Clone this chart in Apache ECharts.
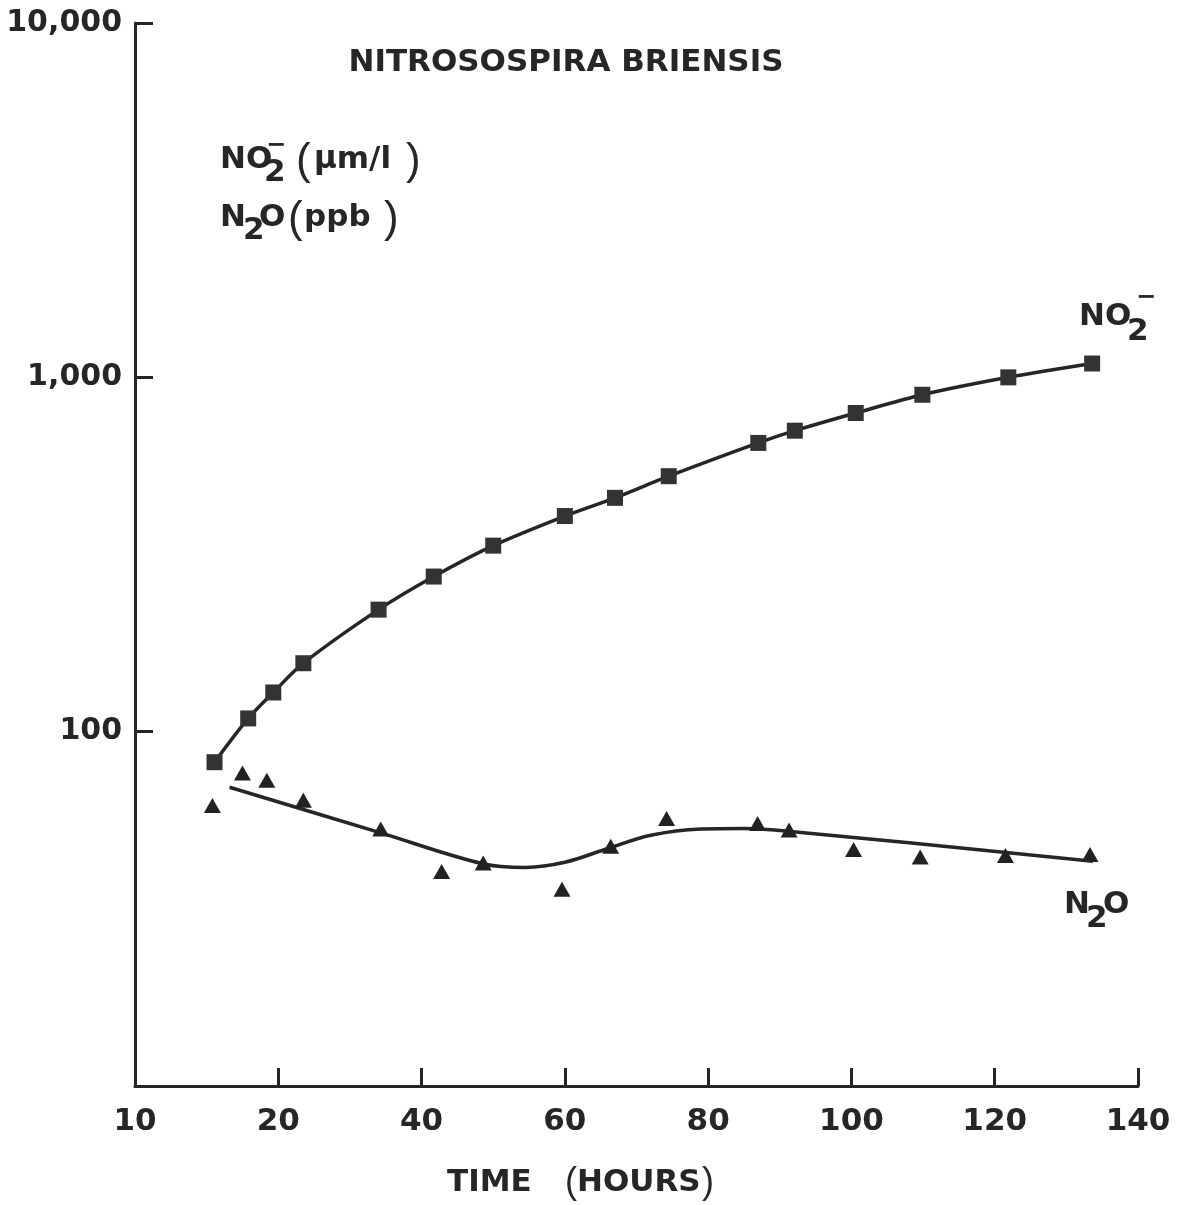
<!DOCTYPE html>
<html>
<head>
<meta charset="utf-8">
<script src="https://cdn.jsdelivr.net/npm/echarts@6/dist/echarts.min.js"></script>
<style>
html,body{margin:0;padding:0;background:#ffffff;}
#chart{width:1178px;height:1205px;}
</style>
</head>
<body>
<div id="chart"></div>
<script>
// ---- data ----
const xTickValues = [0, 20, 40, 60, 80, 100, 120, 140];
const xTickLabels = ['10', '20', '40', '60', '80', '100', '120', '140'];
const yTickValues = [100, 1000, 10000];
const yTickLabels = ['100', '1,000', '10,000'];

// NO2- (squares), hours and µm/l
const hoursNO2 = [11.1, 15.8, 19.3, 23.5, 34.0, 41.7, 50.0, 60.0, 67.0, 74.5, 87.0, 92.1, 100.6, 109.9, 121.9, 133.6];
const valuesNO2 = [82, 109, 129, 156, 221, 274, 335, 406, 457, 526, 653, 707, 793, 893, 1000, 1094];

// N2O (triangles), hours and ppb
const hoursN2O = [10.8, 15.0, 18.4, 23.5, 34.3, 42.8, 48.6, 59.6, 66.4, 74.2, 86.9, 91.3, 100.3, 109.6, 121.5, 133.3];
const valuesN2O = [61.9, 76.5, 72.9, 64.0, 53.1, 40.3, 42.6, 35.9, 47.5, 56.9, 55.1, 52.8, 46.5, 44.3, 44.7, 45.0];

// hand-drawn N2O curve
const fitHoursN2O = [13.2, 34.3, 48.5, 54.5, 60.0, 66.0, 72.0, 79.0, 85.0, 91.5, 133.7];
const fitValuesN2O = [69.7, 51.8, 42.4, 41.4, 42.8, 46.8, 51.0, 53.1, 53.3, 52.3, 43.1];

// ---- chart ----
const INK = '#262626';
const BOLD = "bold 31px 'DejaVu Sans'";
const PAREN = "normal 44px 'Liberation Sans'";

function pairs(xs, ys) { return xs.map((x, i) => [x, ys[i]]); }

function txt(text, x, y, font, align) {
  return {
    type: 'text', x: x, y: y, silent: true,
    style: { text: text, font: font || BOLD, fill: INK, textAlign: align || 'left', textVerticalAlign: 'middle' }
  };
}

const chart = echarts.init(document.getElementById('chart'));
chart.setOption({
  backgroundColor: '#ffffff',
  animation: false,
  grid: { left: 135, right: 40, top: 23, bottom: 119, outerBoundsMode: 'none', containLabel: false },
  xAxis: {
    type: 'value', min: 0, max: 140, interval: 20,
    axisLine: { show: true, lineStyle: { color: INK, width: 3 } },
    axisTick: { show: true, inside: true, length: 18, lineStyle: { color: INK, width: 3 } },
    splitLine: { show: false },
    axisLabel: {
      margin: 20, color: INK, fontFamily: 'DejaVu Sans', fontWeight: 'bold', fontSize: 31,
      formatter: v => { const i = xTickValues.indexOf(v); return i >= 0 ? xTickLabels[i] : ''; }
    }
  },
  yAxis: {
    type: 'log', logBase: 10, min: 10, max: 10000,
    axisLine: { show: true, lineStyle: { color: INK, width: 3 } },
    axisTick: { show: true, inside: true, length: 18, lineStyle: { color: INK, width: 3 } },
    splitLine: { show: false },
    minorTick: { show: false },
    axisLabel: {
      margin: 13, color: INK, fontFamily: 'DejaVu Sans', fontWeight: 'bold', fontSize: 30,
      formatter: v => { const i = yTickValues.findIndex(t => Math.abs(t - v) < 1e-6 * t); return i >= 0 ? yTickLabels[i] : ''; }
    }
  },
  series: [
    {
      name: 'NO2', type: 'line', data: pairs(hoursNO2, valuesNO2),
      smooth: 0.3, symbol: 'rect', symbolSize: 16, showSymbol: true,
      itemStyle: { color: '#333333', opacity: 1 },
      lineStyle: { color: INK, width: 3.5 }, z: 3
    },
    {
      name: 'N2O fit', type: 'line', data: pairs(fitHoursN2O, fitValuesN2O),
      smooth: 0.35, showSymbol: false, symbol: 'none',
      lineStyle: { color: INK, width: 3.5 }, z: 2
    },
    {
      name: 'N2O', type: 'scatter', data: pairs(hoursN2O, valuesN2O),
      symbol: 'triangle', symbolSize: [17, 15],
      itemStyle: { color: '#222222', opacity: 1 }, z: 4
    }
  ],
  graphic: [
    txt('NITROSOSPIRA BRIENSIS', 566, 63, BOLD, 'center'),
    // NO2-(µm/l)
    txt('NO', 220, 160),
    txt('2', 264, 173),
    txt('\u2212', 266, 146, "bold 24px 'DejaVu Sans'"),
    txt('(', 296, 162, PAREN),
    txt('\u03BCm/l', 314, 160),
    txt(')', 406, 162, PAREN),
    // N2O(ppb)
    txt('N', 220, 218),
    txt('2', 243, 231),
    txt('O', 259, 218),
    txt('(', 288, 220, PAREN),
    txt('ppb', 304, 218),
    txt(')', 384, 220, PAREN),
    // series labels
    txt('NO', 1079, 317),
    txt('2', 1127, 332),
    txt('\u2212', 1136, 298, "bold 24px 'DejaVu Sans'"),
    txt('N', 1064, 905),
    txt('2', 1086, 919),
    txt('O', 1103, 905),
    // x axis title
    txt('TIME', 447, 1183),
    txt('(', 565, 1183, "normal 36px 'Liberation Sans'"),
    txt('HOURS', 577, 1183),
    txt(')', 702, 1183, "normal 36px 'Liberation Sans'")
  ]
});
</script>
</body>
</html>
